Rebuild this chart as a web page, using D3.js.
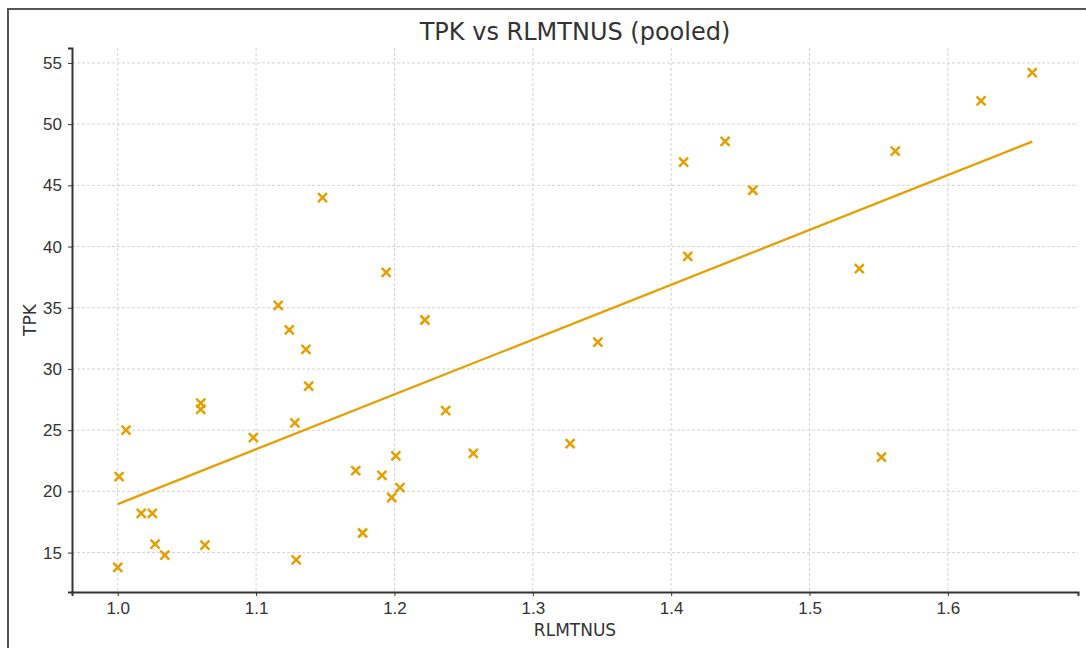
<!DOCTYPE html>
<html>
<head>
<meta charset="utf-8">
<script src="https://cdn.jsdelivr.net/npm/d3@7"></script>
<style>
  body { margin: 0; background: #fff; }
  svg { display: block; font-family: "DejaVu Sans", sans-serif; }
</style>
</head>
<body>
<div id="chart"></div>
<script>

var rlmtnus = [1.000, 1.001, 1.006, 1.017, 1.025, 1.027, 1.034, 1.060, 1.060, 1.063,
               1.098, 1.116, 1.124, 1.128, 1.129, 1.136, 1.138, 1.148, 1.172, 1.177,
               1.191, 1.194, 1.198, 1.201, 1.204, 1.222, 1.237, 1.257, 1.327, 1.347,
               1.409, 1.412, 1.439, 1.459, 1.536, 1.552, 1.562, 1.624, 1.661];

var tpk = [13.8, 21.2, 25.0, 18.2, 18.2, 15.7, 14.8, 27.2, 26.7, 15.6,
           24.4, 35.2, 33.2, 25.6, 14.4, 31.6, 28.6, 44.0, 21.7, 16.6,
           21.3, 37.9, 19.5, 22.9, 20.3, 34.0, 26.6, 23.1, 23.9, 32.2,
           46.9, 39.2, 48.6, 44.6, 38.2, 22.8, 47.8, 51.9, 54.2];

// OLS line as drawn: intercept, slope
var fitCoef = [-25.84, 44.8];

var xTicks = [1.0, 1.1, 1.2, 1.3, 1.4, 1.5, 1.6];
var yTicks = [15, 20, 25, 30, 35, 40, 45, 50, 55];

var width = 1086;
var height = 648;
var margin = {top: 48, right: 8, bottom: 56, left: 72};
var color = '#E69F00';

var svg = d3.select('#chart').append('svg')
            .attr('width', width)
            .attr('height', height);

// screenshot frame
svg.append('path')
   .attr('d', 'M8,' + height + 'V9H' + width)
   .attr('fill', 'none')
   .attr('stroke', '#555')
   .attr('stroke-width', 2);

var points = rlmtnus.map(function(d, i){ return [d, tpk[i]]; });

function padded(ext){
	var pad = (ext[1] - ext[0]) * 0.05;
	return [ext[0] - pad, ext[1] + pad];
}

var x = d3.scaleLinear()
          .domain(padded(d3.extent(rlmtnus)))
          .range([margin.left, width - margin.right]);

var y = d3.scaleLinear()
          .domain(padded(d3.extent(tpk)))
          .range([height - margin.bottom, margin.top]);

// Grid //

var grid = svg.append('g').attr('class', 'grid');

grid.selectAll('.vgrid')
    .data(xTicks)
    .enter().append('line')
    .attr('x1', function(d){ return x(d); })
    .attr('x2', function(d){ return x(d); })
    .attr('y1', margin.top)
    .attr('y2', height - margin.bottom)
    .attr('stroke', '#d4d4d4')
    .attr('stroke-dasharray', '3,2');

grid.selectAll('.hgrid')
    .data(yTicks)
    .enter().append('line')
    .attr('y1', function(d){ return y(d); })
    .attr('y2', function(d){ return y(d); })
    .attr('x1', margin.left)
    .attr('x2', width - margin.right)
    .attr('stroke', '#d4d4d4')
    .attr('stroke-dasharray', '3,2');

// Axes //

var xAxis = svg.append('g')
               .attr('transform', 'translate(0,' + (height - margin.bottom) + ')')
               .call(d3.axisBottom(x).tickValues(xTicks).tickFormat(d3.format('.1f')).tickSizeOuter(0).tickSize(4).tickPadding(6));

var yAxis = svg.append('g')
               .attr('transform', 'translate(' + margin.left + ',0)')
               .call(d3.axisLeft(y).tickValues(yTicks).tickSizeOuter(0).tickSize(4).tickPadding(6));

[xAxis, yAxis].forEach(function(a){
	a.select('.domain').attr('stroke', '#333').attr('stroke-width', 2);
	a.selectAll('.tick line').attr('stroke', '#333');
	a.selectAll('.tick text').attr('fill', '#333').style('font-size', '17px');
});

// Fit line //

var xs = d3.extent(rlmtnus);

svg.append('line')
   .attr('x1', x(xs[0]))
   .attr('y1', y(fitCoef[0] + fitCoef[1] * xs[0]))
   .attr('x2', x(xs[1]))
   .attr('y2', y(fitCoef[0] + fitCoef[1] * xs[1]))
   .attr('stroke', color)
   .attr('stroke-width', 2.3);

// Markers //

var s = 4.5;

svg.selectAll('.marker')
   .data(points)
   .enter().append('path')
   .attr('class', 'marker')
   .attr('d', function(d){
   	var cx = x(d[0]), cy = y(d[1]);
   	return 'M' + (cx - s) + ',' + (cy - s) + 'L' + (cx + s) + ',' + (cy + s) +
   	       'M' + (cx - s) + ',' + (cy + s) + 'L' + (cx + s) + ',' + (cy - s);
   })
   .attr('stroke', color)
   .attr('stroke-width', 2.5)
   .attr('fill', 'none');

// Labels //

svg.append('text')
   .attr('x', (margin.left + width - margin.right) / 2)
   .attr('y', 40)
   .attr('text-anchor', 'middle')
   .attr('fill', '#333')
   .style('font-size', '24px')
   .text('TPK vs RLMTNUS (pooled)');

svg.append('text')
   .attr('x', (margin.left + width - margin.right) / 2)
   .attr('y', 636)
   .attr('text-anchor', 'middle')
   .attr('fill', '#333')
   .style('font-size', '17px')
   .text('RLMTNUS');

svg.append('text')
   .attr('transform', 'translate(36,' + ((margin.top + height - margin.bottom) / 2) + ') rotate(-90)')
   .attr('text-anchor', 'middle')
   .attr('fill', '#333')
   .style('font-size', '17px')
   .text('TPK');

</script>
</body>
</html>
